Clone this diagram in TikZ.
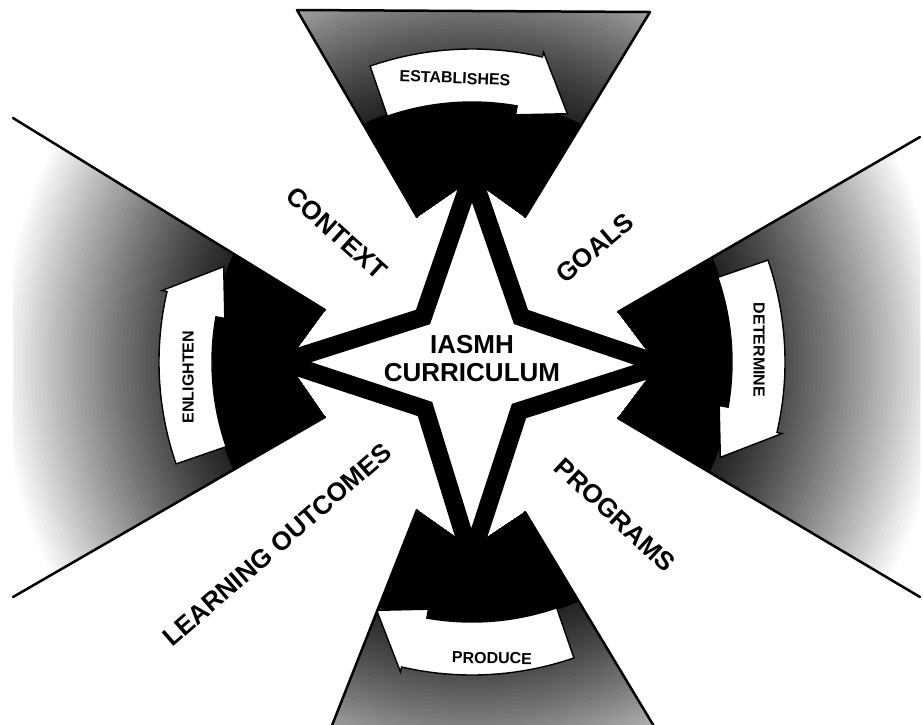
\documentclass[tikz,border=0pt]{standalone}
\usepackage{fontspec}
\setmainfont{Liberation Sans}
\newcommand\ribbonarrow[1]{%
  \pgfmathsetmacro\ra{#1+19}%
  \pgfmathsetmacro\rb{#1-13}%
  \pgfmathsetmacro\rc{#1-21}%
  \pgfmathsetmacro\rd{#1-10}%
  \draw[band] (\ra:313) arc[start angle=\ra, end angle=\rb, radius=313]
    -- (\rb:318) -- (\rc:266) -- (\rd:251) -- (\rd:260)
    arc[start angle=\rd, end angle=\ra, radius=260] -- cycle;}
\begin{document}
\begin{tikzpicture}[x=1pt,y=1pt,
  wedgeline/.style={line width=2.5pt, line join=round, line cap=round},
  band/.style={fill=white, draw=black, line width=1.4pt, line join=miter},
  biglabel/.style={font=\bfseries\fontsize{26}{28}\selectfont, inner sep=0pt},
  bandtext/.style={font=\bfseries\fontsize{16}{18}\selectfont, inner sep=0pt},
  startext/.style={font=\bfseries\fontsize{26}{28}\selectfont, align=center, inner sep=0pt},
  starline/.style={draw=black, fill=white, line width=18pt, line join=miter, miter limit=10}]

\useasboundingbox (0,0) rectangle (923,-724);
\fill[white] (0,0) rectangle (923,-724);

\coordinate (C) at (472,-362);
% top wedge
\coordinate (tA) at (297,-10);  \coordinate (tB) at (417,-217);
\coordinate (tN) at (472,-179); \coordinate (tC) at (525,-217);
\coordinate (tD) at (650,-12);
% left wedge
\coordinate (lA) at (13,-118);  \coordinate (lB) at (325,-310);
\coordinate (lN) at (287,-362); \coordinate (lC) at (325,-417);
\coordinate (lD) at (13,-597);
% right wedge
\coordinate (rA) at (920,-137); \coordinate (rB) at (618,-312);
\coordinate (rN) at (658,-365); \coordinate (rC) at (618,-418);
\coordinate (rD) at (920,-597);
% bottom wedge
\coordinate (bA) at (417,-510); \coordinate (bN) at (471,-548);
\coordinate (bB) at (525,-512); \coordinate (bC) at (655,-728);
\coordinate (bD) at (331,-728);

% shaded wedges
\begin{scope}
  \clip (tA) -- (tB) -- (tN) -- (tC) -- (tD) -- cycle
        (lA) -- (lB) -- (lN) -- (lC) -- (lD) -- cycle
        (rA) -- (rB) -- (rN) -- (rC) -- (rD) -- cycle
        (bA) -- (bN) -- (bB) -- (bC) -- (bD) -- cycle;
  \foreach \r in {474,470,...,266} {
    \pgfmathsetmacro\p{86-86*((\r-262)/212)^1.2}
    \fill[black!\p] (C) circle[radius=\r];
  }
  \fill[black] (C) circle[radius=262];
\end{scope}

% curved arrows
\begin{scope}[shift={(C)}]
  \ribbonarrow{90}
  \ribbonarrow{0}
  \ribbonarrow{-90}
  \ribbonarrow{180}
\end{scope}

% wedge outlines
\draw[wedgeline] (tB) -- (tA) -- (tD) -- (tC);
\draw[wedgeline] (lB) -- (lA);
\draw[wedgeline] (lC) -- (lD);
\draw[wedgeline] (rB) -- (rA);
\draw[wedgeline] (rC) -- (rD);
\draw[wedgeline] (bA) -- (bD);
\draw[wedgeline] (bB) -- (bC);

% star
\coordinate (sT) at (472,-175);  \coordinate (sUR) at (521,-317);
\coordinate (sR) at (663,-365);  \coordinate (sLR) at (519,-411);
\coordinate (sB) at (471,-558);  \coordinate (sLL) at (425,-409);
\coordinate (sL) at (282,-362);  \coordinate (sUL) at (423,-317);
\path[starline] (sT) -- (sUR) -- (sR) -- (sLR) -- (sB) -- (sLL) -- (sL) -- (sUL) -- cycle;

% texts
\node[startext] (cur) at (472,-359) {IASMH\\CURRICULUM};
\node[biglabel, rotate=-42] (ctx) at (337,-233) {CONTEXT};
\node[biglabel, rotate=40] (goals) at (595,-248) {GOALS};
\node[biglabel, rotate=-43] (prog) at (615,-515) {PROGRAMS};
\node[biglabel, rotate=41] (lo) at (277,-545) {LEARNING OUTCOMES};

\node[bandtext, rotate=-2.5] (est) at (455,-78) {ESTABLISHES};
\node[bandtext, rotate=-90] (det) at (759,-350) {DETERMINE};
\node[bandtext, rotate=-1] (prod) at (492,-658) {PRODUCE};
\node[bandtext, rotate=90] (enl) at (188,-377) {ENLIGHTEN};
\end{tikzpicture}
\end{document}
